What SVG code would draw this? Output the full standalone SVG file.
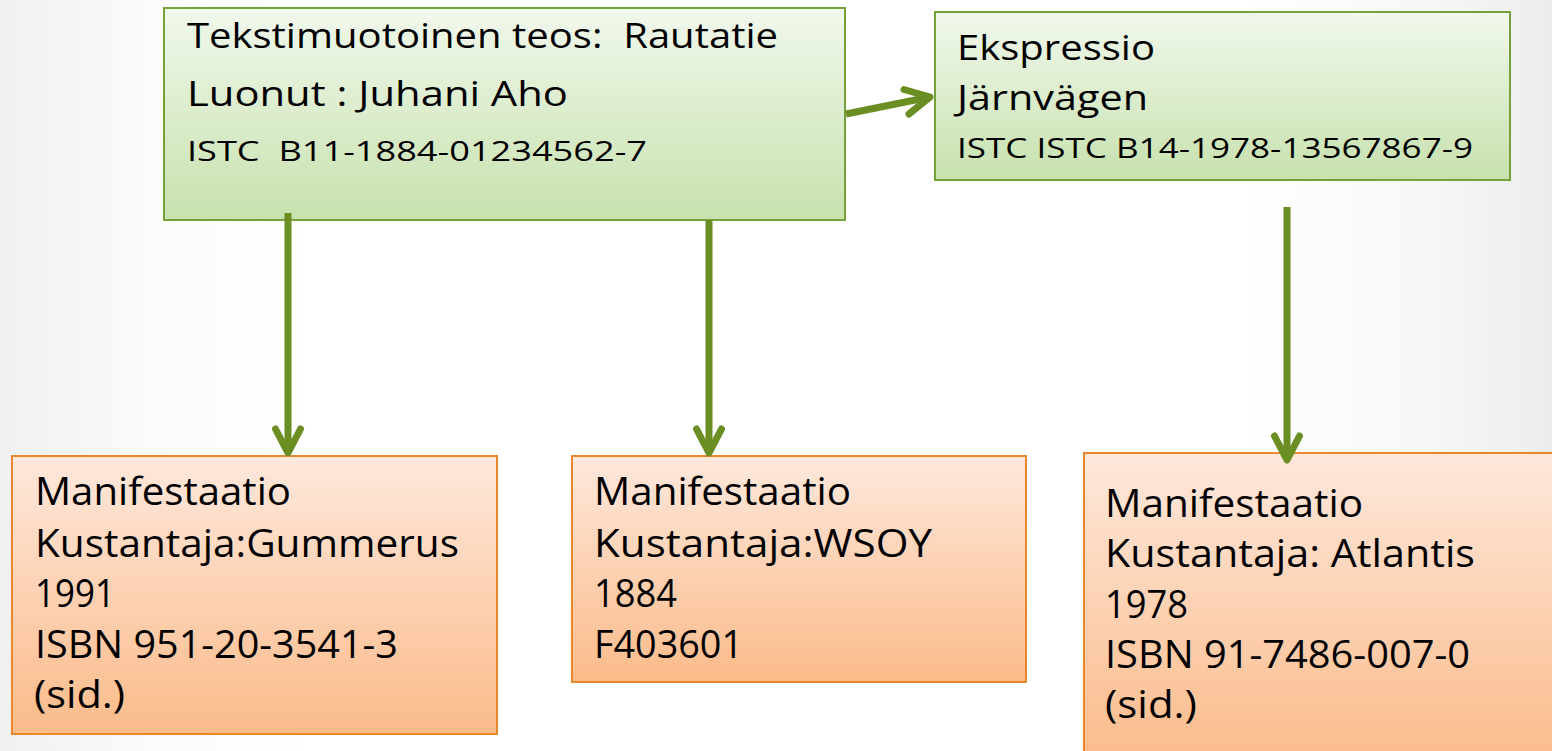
<svg xmlns="http://www.w3.org/2000/svg" width="1552" height="751" viewBox="0 0 1552 751">
  <defs>
    <linearGradient id="bg" x1="0" y1="0" x2="1" y2="0">
      <stop offset="0" stop-color="#f0f0f0"/>
      <stop offset="0.1" stop-color="#fbfbfb"/>
      <stop offset="0.2" stop-color="#ffffff"/>
      <stop offset="0.8" stop-color="#ffffff"/>
      <stop offset="0.92" stop-color="#f7f7f7"/>
      <stop offset="1" stop-color="#ececec"/>
    </linearGradient>
    <linearGradient id="gGreen" x1="0" y1="0" x2="0" y2="1">
      <stop offset="0" stop-color="#f1f8ec"/>
      <stop offset="1" stop-color="#c7e1ae"/>
    </linearGradient>
    <linearGradient id="gOrange" x1="0" y1="0" x2="0" y2="1">
      <stop offset="0" stop-color="#fee8dc"/>
      <stop offset="1" stop-color="#fbbb8a"/>
    </linearGradient>
    <marker id="arr" markerUnits="userSpaceOnUse" markerWidth="40" markerHeight="40" viewBox="-20 -20 40 40" refX="0" refY="0" orient="auto" overflow="visible">
      <path d="M-24,-12.5 L0,0 L-24,12.5" fill="none" stroke="#6b8e23" stroke-width="7" stroke-linecap="round" stroke-linejoin="round"/>
    </marker>
  </defs>
  <style>
    .green { fill: url(#gGreen); stroke: #76a13a; stroke-width: 2; }
    .orange { fill: url(#gOrange); stroke: #ea872c; stroke-width: 2; }
    .t { font-family: "Open Sans", "Liberation Sans", "DejaVu Sans", sans-serif; fill: #000; white-space: pre; }
    .big { font-size: 34px; }
    .small { font-size: 28px; }
    .m { font-size: 38px; }
    .conn { stroke: #6b8e23; stroke-width: 7; fill: none; marker-end: url(#arr); }
  </style>
  <rect x="0" y="0" width="1552" height="751" fill="url(#bg)"/>

  <g id="work">
    <rect class="green" x="164" y="8" width="681" height="212"/>
    <text class="t big" x="187" y="48" textLength="591" lengthAdjust="spacingAndGlyphs" xml:space="preserve">Tekstimuotoinen teos:  Rautatie</text>
    <text class="t big" x="187" y="106" textLength="381" lengthAdjust="spacingAndGlyphs">Luonut : Juhani Aho</text>
    <text class="t small" x="187" y="161" textLength="460" lengthAdjust="spacingAndGlyphs" xml:space="preserve">ISTC  B11-1884-01234562-7</text>
  </g>

  <g id="expression">
    <rect class="green" x="935" y="12" width="575" height="168"/>
    <text class="t big" x="957" y="60" textLength="198" lengthAdjust="spacingAndGlyphs">Ekspressio</text>
    <text class="t big" x="957" y="110" textLength="191" lengthAdjust="spacingAndGlyphs">Järnvägen</text>
    <text class="t small" x="957" y="158" textLength="516" lengthAdjust="spacingAndGlyphs">ISTC ISTC B14-1978-13567867-9</text>
  </g>

  <g id="manif1">
    <rect class="orange" x="12" y="456" width="485" height="278"/>
    <text class="t m" x="35" y="505" textLength="256" lengthAdjust="spacingAndGlyphs">Manifestaatio</text>
    <text class="t m" x="35" y="557" textLength="424" lengthAdjust="spacingAndGlyphs">Kustantaja:Gummerus</text>
    <text class="t m" x="35" y="607" textLength="80" lengthAdjust="spacingAndGlyphs">1991</text>
    <text class="t m" x="35" y="658" textLength="363" lengthAdjust="spacingAndGlyphs">ISBN 951-20-3541-3</text>
    <text class="t m" x="34" y="708" textLength="91" lengthAdjust="spacingAndGlyphs">(sid.)</text>
  </g>

  <g id="manif2">
    <rect class="orange" x="572" y="456" width="454" height="226"/>
    <text class="t m" x="594" y="505" textLength="257" lengthAdjust="spacingAndGlyphs">Manifestaatio</text>
    <text class="t m" x="594" y="557" textLength="338" lengthAdjust="spacingAndGlyphs">Kustantaja:WSOY</text>
    <text class="t m" x="594" y="607" textLength="83" lengthAdjust="spacingAndGlyphs">1884</text>
    <text class="t m" x="594" y="658" textLength="149" lengthAdjust="spacingAndGlyphs">F403601</text>
  </g>

  <g id="manif3">
    <rect class="orange" x="1084" y="453" width="480" height="310"/>
    <text class="t m" x="1105" y="517" textLength="258" lengthAdjust="spacingAndGlyphs">Manifestaatio</text>
    <text class="t m" x="1105" y="567" textLength="370" lengthAdjust="spacingAndGlyphs">Kustantaja: Atlantis</text>
    <text class="t m" x="1105" y="618" textLength="83" lengthAdjust="spacingAndGlyphs">1978</text>
    <text class="t m" x="1105" y="668" textLength="365" lengthAdjust="spacingAndGlyphs">ISBN 91-7486-007-0</text>
    <text class="t m" x="1105" y="718" textLength="92" lengthAdjust="spacingAndGlyphs">(sid.)</text>
  </g>

  <g id="connectors">
    <line class="conn" x1="846" y1="114" x2="930" y2="97"/>
    <line class="conn" x1="288" y1="213" x2="288" y2="453"/>
    <line class="conn" x1="709" y1="220" x2="709" y2="453"/>
    <line class="conn" x1="1287" y1="207" x2="1287" y2="460"/>
  </g>
</svg>
